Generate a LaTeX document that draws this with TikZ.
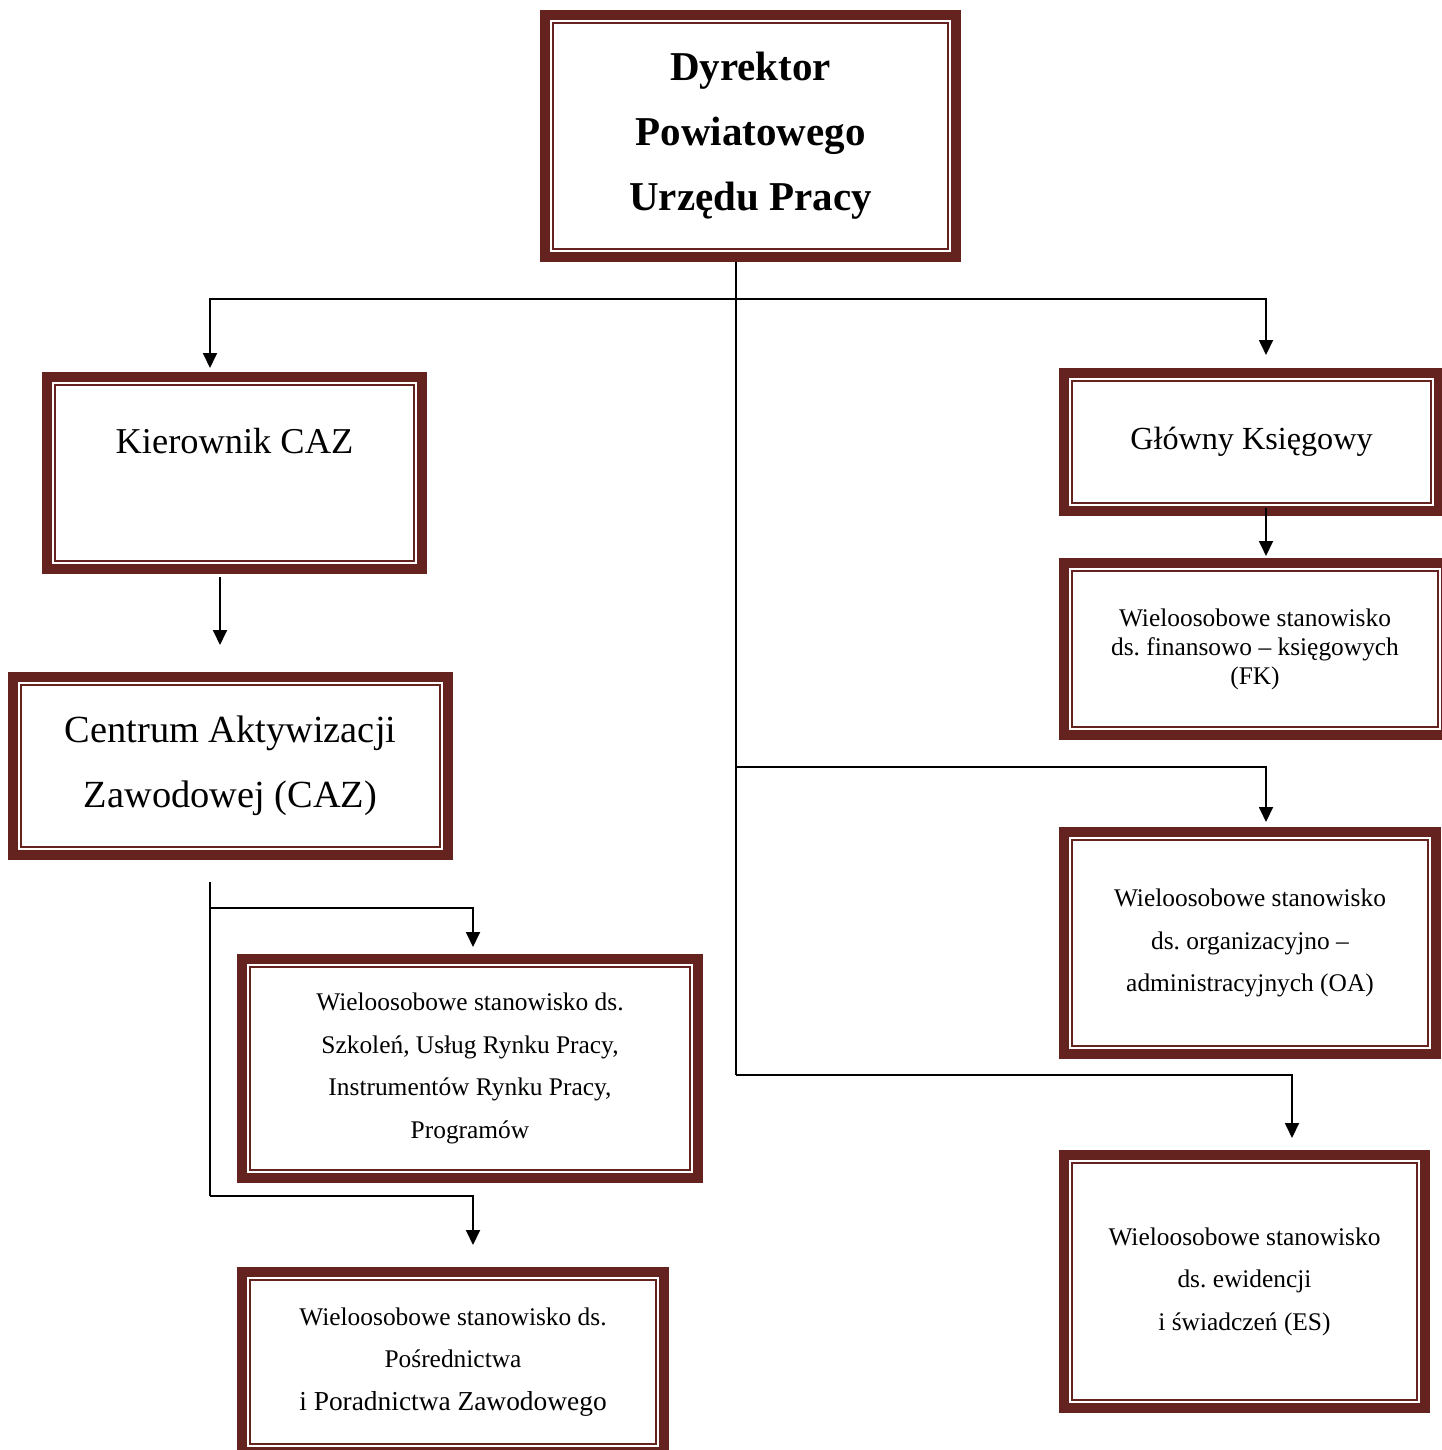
\documentclass[tikz,border=0pt]{standalone}
\usepackage{fontspec}
\setmainfont{Liberation Serif}
\frenchspacing
\usetikzlibrary{arrows.meta}
\definecolor{boxred}{HTML}{65231F}

\begin{document}
\begin{tikzpicture}[x=0.5pt,y=-0.5pt,
    orgbox/.style={draw=boxred,line width=5pt,outer sep=2.5pt,inner sep=0pt,align=center},
    innerline/.style={draw=boxred,line width=0.8pt},
    conn/.style={line width=0.9pt},
    arrow/.style={conn,-{Triangle[width=7pt,length=7.5pt]}},
    smalltext/.style={font=\fontsize{12.7}{21.25}\selectfont}]
      \useasboundingbox (0,0) rectangle (1441,1450);

      \begin{scope}[shift={(750.5,136)}]
        \node[orgbox,minimum width=205.5pt,minimum height=121pt,
              font=\bfseries\fontsize{20.5}{32.5}\selectfont] (dyr) at (0,0)
          {Dyrektor\\ Powiatowego\\ Urzędu Pracy};
      \end{scope}
      \begin{scope}[shift={(234.5,473)}]
        \node[orgbox,minimum width=187.5pt,minimum height=96pt,
              font=\fontsize{18.2}{32.5}\selectfont] (kier) at (0,0)
          {Kierownik CAZ\\ ~};
      \end{scope}
      \begin{scope}[shift={(230.5,766)}]
        \node[orgbox,minimum width=217.5pt,minimum height=89pt,
              font=\fontsize{19.2}{32.5}\selectfont] (cent) at (0,0)
          {Centrum Aktywizacji\\ Zawodowej (CAZ)};
      \end{scope}
      \begin{scope}[shift={(1251.5,442)}]
        \node[orgbox,minimum width=187.5pt,minimum height=69pt,
              font=\fontsize{16.1}{20}\selectfont] (glow) at (0,0)
          {\raisebox{2.5pt}{Główny Księgowy}};
      \end{scope}
      \begin{scope}[shift={(1255,649)}]
        \node[orgbox,minimum width=191pt,minimum height=86pt,
              font=\fontsize{12.7}{14.5}\selectfont] (fk) at (0,0)
          {Wieloosobowe stanowisko\\ ds. finansowo – księgowych\\ (FK)};
      \end{scope}
      \begin{scope}[shift={(1250,943)}]
        \node[orgbox,smalltext,minimum width=186pt,minimum height=111pt] (oa) at (0,0)
          {Wieloosobowe stanowisko\\ ds. organizacyjno –\\ administracyjnych (OA)};
      \end{scope}
      \begin{scope}[shift={(1244.5,1281.5)}]
        \node[orgbox,smalltext,minimum width=180.5pt,minimum height=126.5pt] (es) at (0,0)
          {Wieloosobowe stanowisko\\ ds. ewidencji\\ i świadczeń (ES)};
      \end{scope}
      \begin{scope}[shift={(470,1068.5)}]
        \node[orgbox,smalltext,minimum width=228pt,minimum height=109.5pt] (szk) at (0,0)
          {Wieloosobowe stanowisko ds.\\ Szkoleń, Usług Rynku Pracy,\\
           Instrumentów Rynku Pracy,\\ Programów};
      \end{scope}
      \begin{scope}[shift={(453,1362)}]
        \node[orgbox,smalltext,minimum width=211pt,minimum height=90pt] (posr) at (0,0)
          {Wieloosobowe stanowisko ds.\\ Pośrednictwa\\
           \fontsize{13.7}{21.5}\selectfont i Poradnictwa Zawodowego};
      \end{scope}

      % thin inner frame of every box
      \foreach \n in {dyr,kier,cent,glow,fk,oa,es,szk,posr}
        \draw[innerline] ([shift={(13,13)}]\n.north west) rectangle ([shift={(-13,-13)}]\n.south east);

      \coordinate (split) at (736,299);
      \coordinate (oafork) at (736,767);
      \coordinate (esfork) at (736,1075);
      \coordinate (centfoot) at (210,882);
      \coordinate (szkfork) at (210,908);
      \coordinate (posrfork) at (210,1196);

      \draw[conn] (dyr.south -| split) -- (esfork);
      \draw[arrow,shorten >=2pt] (split) -| ([xshift=-12.25pt]kier.north);
      \draw[arrow,shorten >=6.5pt] (split) -| ([xshift=7.25pt]glow.north);
      \draw[arrow,shorten <=-4pt,shorten >=1pt] ([xshift=7.25pt]glow.south) -- ([xshift=7.25pt]glow.south |- fk.north);
      \draw[arrow,shorten >=2.5pt] (oafork) -| ([xshift=8pt]oa.north);
      \draw[arrow,shorten >=6pt] (esfork) -| ([xshift=23.75pt]es.north);

      \draw[arrow,shorten <=1.5pt,shorten >=13.5pt] ([xshift=-7.25pt]kier.south) -- ([xshift=-7.25pt]kier.south |- cent.north);
      \draw[conn] (centfoot) -- (posrfork);
      \draw[arrow,shorten >=3.5pt] (szkfork) -| ([xshift=1.5pt]szk.north);
      \draw[arrow,shorten >=11pt] (posrfork) -| ([xshift=10pt]posr.north);
    \end{tikzpicture}
\end{document}
